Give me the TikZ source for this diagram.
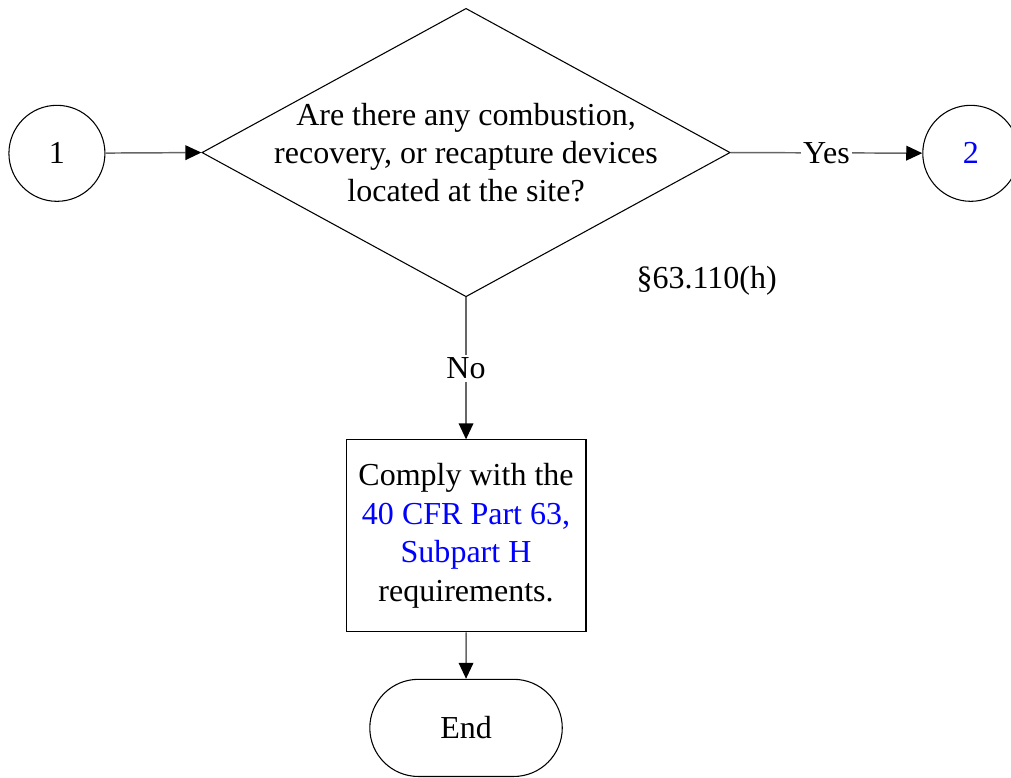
\documentclass[tikz,border=0pt]{standalone}
\usepackage{fontspec}
\setmainfont{Liberation Serif}
\usetikzlibrary{shapes,arrows.meta,calc,positioning}

\tikzset{
  kor/.style={circle,draw,thin,minimum size=1.265cm,inner sep=0pt},
  nyil/.style={draw=black!60,line width=0.55pt,-{Triangle[black,length=6pt,width=5.5pt]}},
  felirat/.style={fill=white,inner sep=1pt}
}

\begin{document}
\begin{tikzpicture}[font=\fontsize{12}{14.4}\selectfont]

\useasboundingbox (0,0) rectangle (13.32,10.24);

% Döntési rombusz
\node[diamond,draw,thin,minimum width=6.96cm,minimum height=3.8cm,inner sep=0pt] (dont) at (6.14,8.23) {};
\node[align=center] (dontsz) at (dont) {Are there any combustion,\\recovery, or recapture devices\\located at the site?};
\node (hiv) at (9.31,6.54) {§63.110(h)};

% Kapcsoló körök
\node[kor] (k1) at (0.75,8.22) {1};
\node[kor,text=blue] (k2) at (12.79,8.22) {2};

% Téglalap és vég
\node[draw,thin,align=center,minimum width=3.16cm,minimum height=2.53cm] (teg) at (6.14,3.18)
  {Comply with the\\\textcolor{blue}{40 CFR Part 63,}\\\textcolor{blue}{Subpart H}\\requirements.};
\node[rounded rectangle,draw,thin,minimum width=2.77cm,minimum height=1.28cm] (veg) at (6.14,0.65) {End};

% Nyilak
\draw[nyil] (k1) -- (dont.west);
\draw[nyil] (dont.east) -- node[felirat]{Yes} (k2);
\draw[nyil] (dont.south) -- node[felirat]{No} (teg);
\draw[nyil] (teg) -- (veg);

\end{tikzpicture}
\end{document}
